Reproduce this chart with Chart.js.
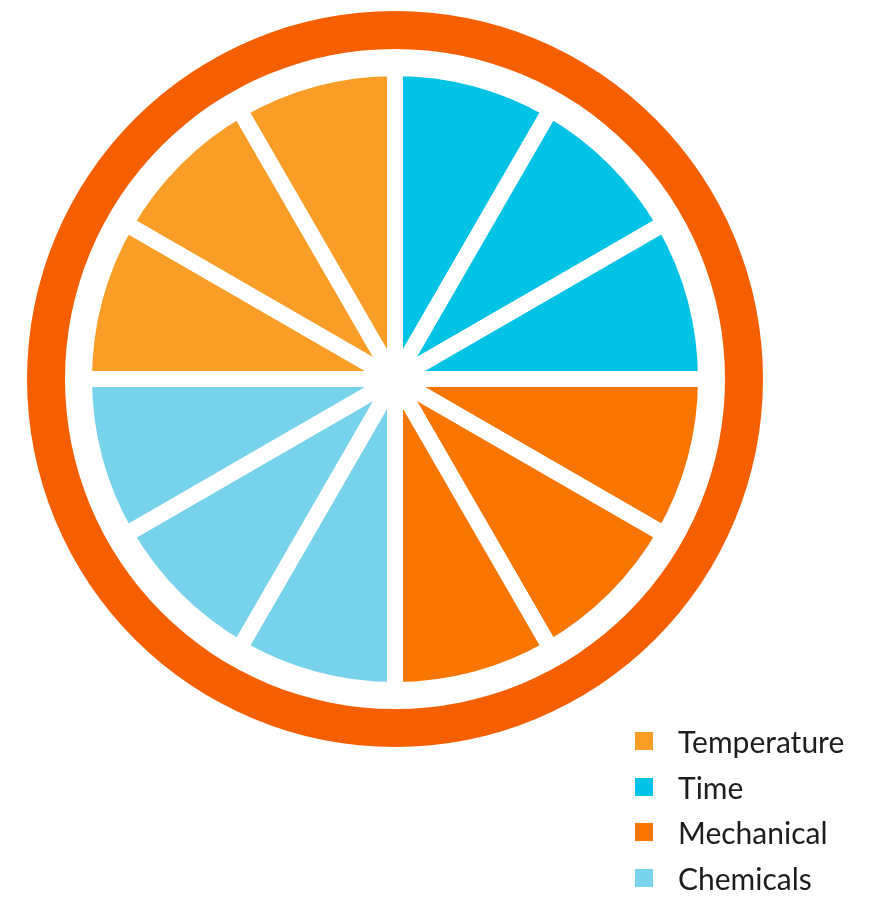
<!DOCTYPE html>
<html>
<head>
<meta charset="utf-8">
<script src="https://cdn.jsdelivr.net/npm/chart.js@4"></script>
<style>
  html, body { margin: 0; padding: 0; background: #fff; }
  #wrap { position: relative; width: 884px; height: 898px; }
  #legend { position: absolute; left: 635px; top: 718px; margin: 0; padding: 0; list-style: none;
            font-family: Lato, "Open Sans", sans-serif; font-size: 30px; color: #1d1d1d; }
  #legend li { height: 45.7px; display: flex; align-items: center; }
  #legend .sw { width: 18px; height: 18px; margin-right: 25px; flex: none; }
</style>
</head>
<body>
<div id="wrap">
  <canvas id="can" width="884" height="898"></canvas>
  <ul id="legend"></ul>
</div>
<script>
// categories, in legend order, and their colours
const categories = ['Temperature', 'Time', 'Mechanical', 'Chemicals'];
const catColors = ['#F99D26', '#00C3E6', '#F77500', '#77D3EC'];

// twelve equal wedges, clockwise from 12 o'clock
const sliceCats = ['Time', 'Time', 'Time',
                   'Mechanical', 'Mechanical', 'Mechanical',
                   'Chemicals', 'Chemicals', 'Chemicals',
                   'Temperature', 'Temperature', 'Temperature'];
const sliceValues = [1, 1, 1, 1, 1, 1, 1, 1, 1, 1, 1, 1];

const rimColor = '#F55F00';

const sliceColors = sliceCats.map(c => catColors[categories.indexOf(c)]);

const ctx = document.getElementById('can').getContext('2d');
new Chart(ctx, {
  type: 'pie',
  data: {
    labels: sliceCats,
    datasets: [
      // outer rim
      { data: [1], backgroundColor: [rimColor], borderWidth: 0, hoverBorderWidth: 0, weight: 38 },
      // white gap between rim and wedges
      { data: [1], backgroundColor: ['rgba(0,0,0,0)'], borderWidth: 0, hoverBorderWidth: 0, weight: 19 },
      // the wedges
      { data: sliceValues, backgroundColor: sliceColors, borderColor: '#fff',
        borderWidth: 16, hoverBorderWidth: 16, borderJoinStyle: 'bevel', weight: 311 }
    ]
  },
  options: {
    responsive: false,
    animation: false,
    events: [],
    layout: { padding: { left: 27, right: 121, top: 11, bottom: 151 } },
    plugins: {
      legend: { display: false },
      tooltip: { enabled: false }
    }
  }
});

// legend
const ul = document.getElementById('legend');
categories.forEach((c, i) => {
  const li = document.createElement('li');
  li.innerHTML = `<span class="sw" style="background:${catColors[i]}"></span><span>${c}</span>`;
  ul.appendChild(li);
});
</script>
</body>
</html>
